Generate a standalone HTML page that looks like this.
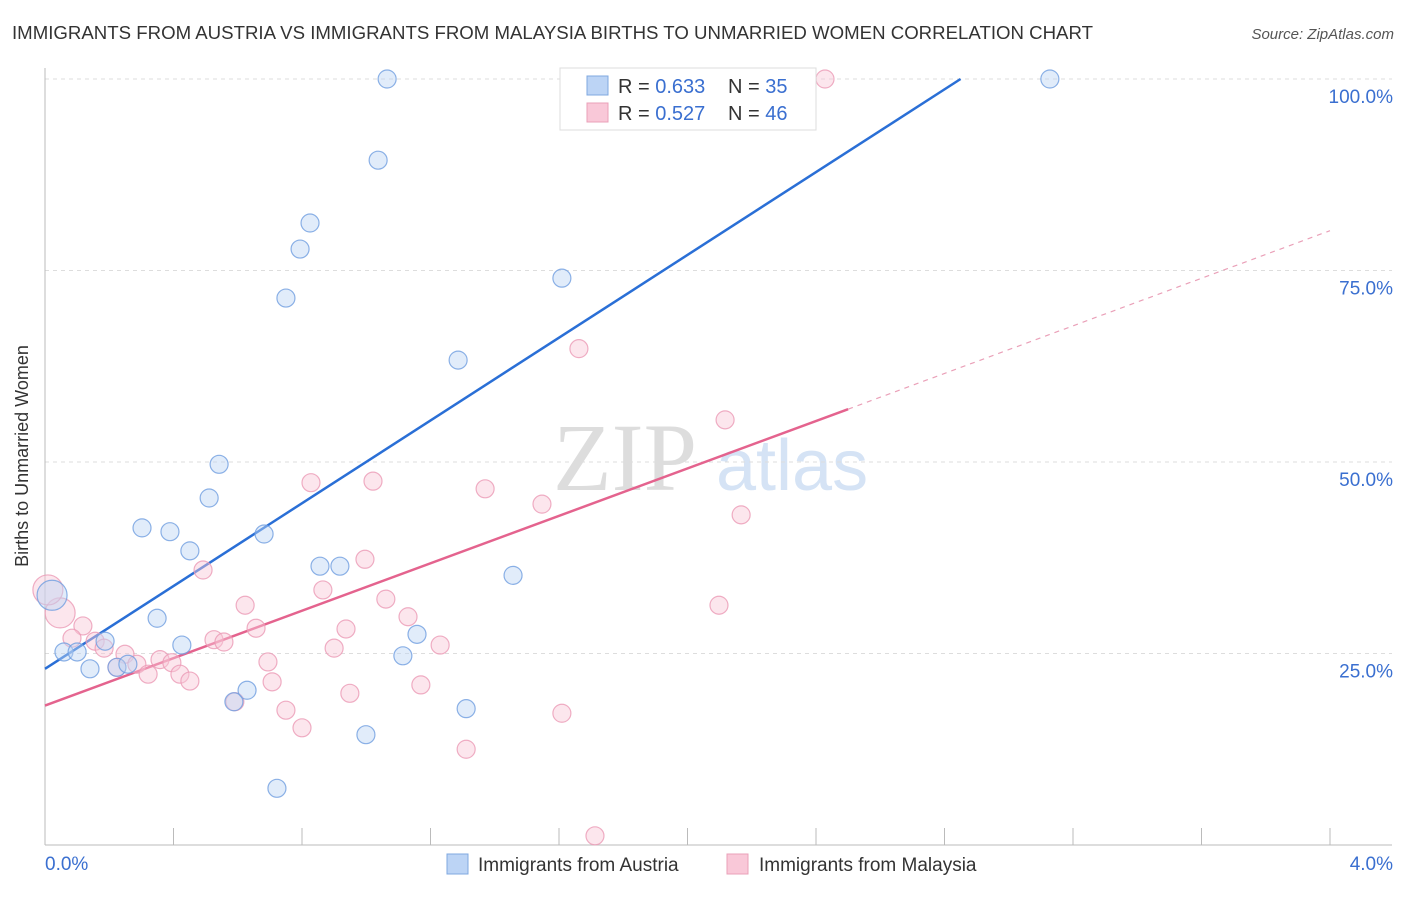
<!DOCTYPE html>
<html><head><meta charset="utf-8"><style>
body{margin:0;background:#fff;font-family:"Liberation Sans",sans-serif;}
</style></head><body>
<svg width="1406" height="892" xmlns="http://www.w3.org/2000/svg" id="svg" font-family="Liberation Sans, sans-serif">
<text x="12" y="39" font-size="18" fill="#333" textLength="1081" lengthAdjust="spacingAndGlyphs">IMMIGRANTS FROM AUSTRIA VS IMMIGRANTS FROM MALAYSIA BIRTHS TO UNMARRIED WOMEN CORRELATION CHART</text>
<text x="1394" y="39" font-size="15" fill="#555" font-style="italic" text-anchor="end">Source: ZipAtlas.com</text>
<text x="28" y="456" font-size="18" fill="#333" text-anchor="middle" transform="rotate(-90 28 456)">Births to Unmarried Women</text>
<g><text x="553" y="490" font-size="96" fill="#ddd" font-family="Liberation Serif, serif">ZIP</text><text x="716" y="490" font-size="72" fill="#d5e3f5">atlas</text></g>
<g id="grid"></g><g id="axes"></g><g id="lines"></g><g id="pts"></g>
<g>
<rect x="560" y="68" width="256" height="62" fill="#fff" stroke="#ddd"/>
<rect x="587" y="76" width="21" height="19" fill="#bcd4f5" stroke="#7fa8e0"/>
<rect x="587" y="103" width="21" height="19" fill="#f9c8d8" stroke="#eaa0b8"/>
<text x="618" y="93" font-size="20" fill="#333">R = <tspan fill="#3a6fd0">0.633</tspan></text>
<text x="728" y="93" font-size="20" fill="#333">N = <tspan fill="#3a6fd0">35</tspan></text>
<text x="618" y="120" font-size="20" fill="#333">R = <tspan fill="#3a6fd0">0.527</tspan></text>
<text x="728" y="120" font-size="20" fill="#333">N = <tspan fill="#3a6fd0">46</tspan></text>
</g>
<g>
<rect x="447" y="854" width="21" height="20" fill="#bcd4f5" stroke="#7fa8e0"/>
<text x="478" y="871" font-size="19" fill="#333">Immigrants from Austria</text>
<rect x="727" y="854" width="21" height="20" fill="#f9c8d8" stroke="#eaa0b8"/>
<text x="759" y="871" font-size="19" fill="#333">Immigrants from Malaysia</text>
</g>
</svg>
<script>
const austriaX=[1.065,1.824,2.272,3.128,1.037,0.825,0.794,0.750,1.609,1.286,0.542,0.511,0.302,0.389,0.682,0.451,0.856,0.918,1.457,0.349,0.426,1.158,0.187,0.059,0.100,0.140,0.224,0.258,1.114,0.629,0.588,1.311,0.999,0.722,0.022];
const austriaY=[100,100,100,100,89.4,81.2,77.8,71.4,74.0,63.3,49.7,45.3,41.4,40.9,40.6,38.4,36.4,36.4,35.2,29.6,26.1,27.5,26.6,25.2,25.2,23.0,23.2,23.6,24.7,20.2,18.7,17.8,14.4,7.4,32.6];
const austriaBig=[34];
const malaysiaX=[2.428,1.939,1.662,2.117,0.828,1.021,1.370,1.547,2.167,0.492,0.996,0.865,1.061,0.623,2.098,1.130,0.047,0.118,0.657,0.937,0.084,0.156,0.526,0.557,0.184,0.900,1.230,0.249,0.694,0.286,0.358,0.395,0.321,0.420,0.451,0.707,1.170,0.949,0.591,0.750,0.800,1.609,1.311,1.712,0.009,0.224];
const malaysiaY=[100,100,64.8,55.5,47.3,47.5,46.5,44.5,43.1,35.9,37.3,33.3,32.1,31.3,31.3,29.8,30.3,28.6,28.3,28.2,27.0,26.6,26.8,26.5,25.7,25.7,26.1,24.9,23.9,23.6,24.2,23.8,22.3,22.3,21.4,21.3,20.9,19.8,18.7,17.6,15.3,17.2,12.5,1.2,33.3,23.2];
const malaysiaBig=[16,44];
const yTicks=[25,50,75,100];
const blueTrend=[0,23.0,2.85,100];
const pinkTrend=[0,18.2,2.5,56.9,4.0,80.2];
const X=v=>45+v*321.25, Y=v=>845-v*7.66;
const NS="http://www.w3.org/2000/svg";
function mk(p,t,a){const e=document.createElementNS(NS,t);for(const k in a)e.setAttribute(k,a[k]);p.appendChild(e);return e;}
const g=document.getElementById('grid'),ax=document.getElementById('axes'),ln=document.getElementById('lines'),pt=document.getElementById('pts');
yTicks.forEach(t=>{const l=mk(g,'line',{x1:45,x2:1392,y1:Y(t),y2:Y(t),stroke:'#ddd','stroke-dasharray':'4 4'});


const tx=mk(ax,'text',{x:1393,y:Y(t)+24,'font-size':19,fill:'#3a6fd0','text-anchor':'end'});tx.textContent=t.toFixed(1)+'%';

});
mk(ax,'line',{x1:45,x2:45,y1:68,y2:845,stroke:'#bbb'});
mk(ax,'line',{x1:45,x2:1392,y1:845,y2:845,stroke:'#bbb'});
for(let i=1;i<=10;i++){mk(ax,'line',{x1:X(i*0.4),x2:X(i*0.4),y1:828,y2:845,stroke:'#bbb'});}
const x0=mk(ax,'text',{x:45,y:870,'font-size':19,fill:'#3a6fd0'});x0.textContent='0.0%';


const x1=mk(ax,'text',{x:1393,y:870,'font-size':19,fill:'#3a6fd0','text-anchor':'end'});x1.textContent='4.0%';


function dots(xs,ys,big,fill,stroke,name){xs.forEach((v,i)=>{const r=big.includes(i)?15:9;const c=mk(pt,'circle',{cx:X(v),cy:Y(ys[i]),r:r,fill:fill,'fill-opacity':0.45,stroke:stroke,'stroke-opacity':0.8,'stroke-width':1.2});

});}
dots(malaysiaX,malaysiaY,malaysiaBig,'#f9c8d8','#eb9ab5','malaysia-point');
dots(austriaX,austriaY,austriaBig,'#bcd4f5','#6f9ee0','austria-point');
const bl=mk(ln,'line',{x1:X(blueTrend[0]),y1:Y(blueTrend[1]),x2:X(blueTrend[2]),y2:Y(blueTrend[3]),stroke:'#2a6fd6','stroke-width':2.5});


const pl=mk(ln,'line',{x1:X(pinkTrend[0]),y1:Y(pinkTrend[1]),x2:X(pinkTrend[2]),y2:Y(pinkTrend[3]),stroke:'#e4638e','stroke-width':2.5});


const pd=mk(ln,'line',{x1:X(pinkTrend[2]),y1:Y(pinkTrend[3]),x2:X(pinkTrend[4]),y2:Y(pinkTrend[5]),stroke:'#eaa0b8','stroke-width':1.2,'stroke-dasharray':'5 5'});


</script>
</body></html>
